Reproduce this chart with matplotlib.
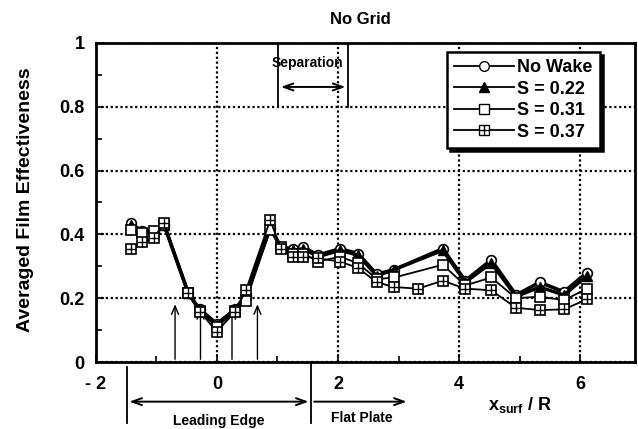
import numpy as np
import matplotlib
matplotlib.use("Agg")
import matplotlib.pyplot as plt
from matplotlib.lines import Line2D
from matplotlib.legend_handler import HandlerTuple
from matplotlib.transforms import blended_transform_factory

plt.rcParams['font.family'] = ['Liberation Sans', 'DejaVu Sans']
plt.rcParams['font.weight'] = 'bold'
plt.rcParams['mathtext.fontset'] = 'custom'
plt.rcParams['mathtext.bf'] = 'Liberation Sans:bold'

# positions de mesure (x_surf / R)
x_main = [-1.42, -1.23, -1.04, -0.87, -0.47, -0.28, 0.0, 0.30, 0.48, 0.88,
          1.06, 1.25, 1.43, 1.67, 2.03, 2.33, 2.64, 2.93, 3.73, 4.10,
          4.53, 4.94, 5.33, 5.73, 6.11]
x_s37 = [-1.42, -1.23, -1.04, -0.87, -0.47, -0.28, 0.0, 0.30, 0.48, 0.88,
         1.06, 1.25, 1.43, 1.67, 2.03, 2.33, 2.64, 2.93, 3.32, 3.73, 4.10,
         4.53, 4.94, 5.33, 5.73, 6.11]

no_wake = [0.435, 0.41, 0.41, 0.43, 0.215, 0.165, 0.12, 0.165, 0.21, 0.42,
           0.36, 0.355, 0.36, 0.335, 0.355, 0.34, 0.275, 0.29, 0.355, 0.255,
           0.32, 0.21, 0.25, 0.22, 0.28]
s022 = [0.43, 0.405, 0.41, 0.43, 0.215, 0.16, 0.115, 0.16, 0.21, 0.42,
        0.36, 0.35, 0.355, 0.33, 0.35, 0.335, 0.27, 0.29, 0.35, 0.25,
        0.31, 0.205, 0.235, 0.21, 0.27]
s031 = [0.415, 0.405, 0.41, 0.43, 0.215, 0.16, 0.11, 0.16, 0.19, 0.415,
        0.36, 0.34, 0.34, 0.315, 0.33, 0.31, 0.26, 0.265, 0.305, 0.24,
        0.265, 0.20, 0.205, 0.194, 0.23]
s037 = [0.355, 0.375, 0.39, 0.435, 0.215, 0.158, 0.095, 0.158, 0.225, 0.445,
        0.355, 0.33, 0.33, 0.325, 0.315, 0.295, 0.25, 0.235, 0.23, 0.255, 0.23,
        0.225, 0.17, 0.163, 0.165, 0.197]

labels = ['No Wake', 'S = 0.22', 'S = 0.31', 'S = 0.37']
x_ticks = [-2, 0, 2, 4, 6]
x_ticklabels = ['- 2', '0', '2', '4', '6']
y_ticks = [0, 0.2, 0.4, 0.6, 0.8, 1]
y_ticklabels = ['0', '0.2', '0.4', '0.6', '0.8', '1']

# fleches verticales (trous d'injection) et zones
hole_x = [-0.69, -0.27, 0.25, 0.67]
hole_top = [0.19, 0.175, 0.175, 0.19]
sep_range = (1.01, 2.17)
le_range = (-1.49, 1.56)
fp_end = 3.18

fig = plt.figure(figsize=(6.38, 4.29), dpi=100)
ax = fig.add_axes([0.150, 0.156, 0.845, 0.744])

ms = 7
ax.plot(x_main, no_wake, color='black', lw=2.6, marker='o', ms=ms,
        mfc='white', mec='black', mew=1.2, zorder=5)
ax.plot(x_main, s022, color='black', lw=2.4, marker='^', ms=ms - 0.5,
        mfc='black', mec='black', zorder=5)
ax.plot(x_main, s031, color='black', lw=1.3, marker='s', ms=ms,
        mfc='white', mec='black', mew=1.2, zorder=5)
ax.plot(x_s37, s037, color='black', lw=1.3, marker='s', ms=ms,
        mfc='white', mec='black', mew=1.2, zorder=5)
ax.plot(x_s37, s037, ls='none', marker='+', ms=ms, mec='black', mew=1.0, zorder=6)

ax.set_xlim(-2, 6.9)
ax.set_ylim(0, 1)
ax.set_xticks(x_ticks)
ax.set_xticklabels(x_ticklabels)
ax.set_xticks([-1, 1, 3, 5], minor=True)
ax.set_yticks(y_ticks)
ax.set_yticklabels(y_ticklabels)
ax.set_yticks([0.1, 0.3, 0.5, 0.7, 0.9], minor=True)
ax.tick_params(which='both', direction='in', width=1.2, labelsize=13)
ax.tick_params(which='major', length=6)
ax.tick_params(which='minor', length=4)
ax.tick_params(axis='y', pad=8)
ax.tick_params(axis='x', pad=10)
for t in ax.get_xticklabels() + ax.get_yticklabels():
    t.set_fontweight('bold')
for sp in ax.spines.values():
    sp.set_linewidth(2.0)

# grille pointillee
ax.grid(True, which='major', color='black', lw=1.6, ls=(0, (1, 1.2)))
ax.set_axisbelow(True)

# fleches des trous
for hx, ht in zip(hole_x, hole_top):
    ax.annotate('', xy=(hx, ht), xytext=(hx, 0),
                arrowprops=dict(arrowstyle='->,head_length=0.6,head_width=0.25',
                                color='black', lw=1.0), zorder=3)

# zone de separation
for sx in sep_range:
    ax.plot([sx, sx], [0.80, 1.0], color='black', lw=1.3, zorder=3)
ax.annotate('', xy=(sep_range[0], 0.862), xytext=(sep_range[1], 0.862),
            arrowprops=dict(arrowstyle='<->,head_length=0.7,head_width=0.25',
                            color='black', lw=1.4))
ax.text(1.49, 0.937, 'Separation', ha='center', va='center', fontsize=10)

# annotations sous l'axe
tr = blended_transform_factory(ax.transData, ax.transAxes)
ax.plot([le_range[0], le_range[0]], [-0.015, -0.19], color='black', lw=1.3,
        transform=tr, clip_on=False)
ax.plot([le_range[1], le_range[1]], [0.0, -0.19], color='black', lw=1.3,
        transform=tr, clip_on=False)
ax.annotate('', xy=(le_range[0], -0.124), xytext=(le_range[1], -0.124),
            xycoords=tr, textcoords=tr,
            arrowprops=dict(arrowstyle='<->,head_length=0.7,head_width=0.25',
                            color='black', lw=1.4))
ax.annotate('', xy=(fp_end, -0.124), xytext=(le_range[1], -0.124),
            xycoords=tr, textcoords=tr,
            arrowprops=dict(arrowstyle='->,head_length=0.7,head_width=0.25',
                            color='black', lw=1.4))
ax.text(0.03, -0.185, 'Leading Edge', transform=tr, ha='center', va='center',
        fontsize=10)
ax.text(2.39, -0.175, 'Flat Plate', transform=tr, ha='center', va='center',
        fontsize=10)

fig.text(520 / 638, 1 - 405 / 429, r'$\mathbf{x}_{\mathbf{surf}}$ / R',
         ha='center', va='center', fontsize=13)
fig.text(26 / 638, 0.534, 'Averaged Film Effectiveness', rotation=90,
         ha='center', va='center', fontsize=14)
fig.text(360 / 638, 1 - 20 / 429, 'No Grid', ha='center', va='center',
         fontsize=12)

# legende
h_nw = Line2D([], [], color='black', lw=1.3, marker='o', ms=ms, mfc='white', mec='black')
h_22 = Line2D([], [], color='black', lw=1.3, marker='^', ms=ms - 0.5, mfc='black', mec='black')
h_31 = Line2D([], [], color='black', lw=1.3, marker='s', ms=ms, mfc='white', mec='black')
h_37a = Line2D([], [], color='black', lw=1.3, marker='s', ms=ms, mfc='white', mec='black')
h_37b = Line2D([], [], ls='none', marker='+', ms=ms, mec='black', mew=1.0)
leg = ax.legend([h_nw, h_22, h_31, (h_37a, h_37b)], labels,
                handler_map={tuple: HandlerTuple(ndivide=1, pad=0)},
                loc='upper right', bbox_to_anchor=(0.935, 0.972),
                borderaxespad=0, fontsize=13, labelspacing=0.25,
                handlelength=3.3, handletextpad=0.2, borderpad=0.4,
                fancybox=False, framealpha=1, edgecolor='black',
                shadow={'color': 'black', 'alpha': 1})
leg.get_frame().set_linewidth(1.8)
for t in leg.get_texts():
    t.set_fontweight('bold')

fig.savefig('out.png', dpi=100)
